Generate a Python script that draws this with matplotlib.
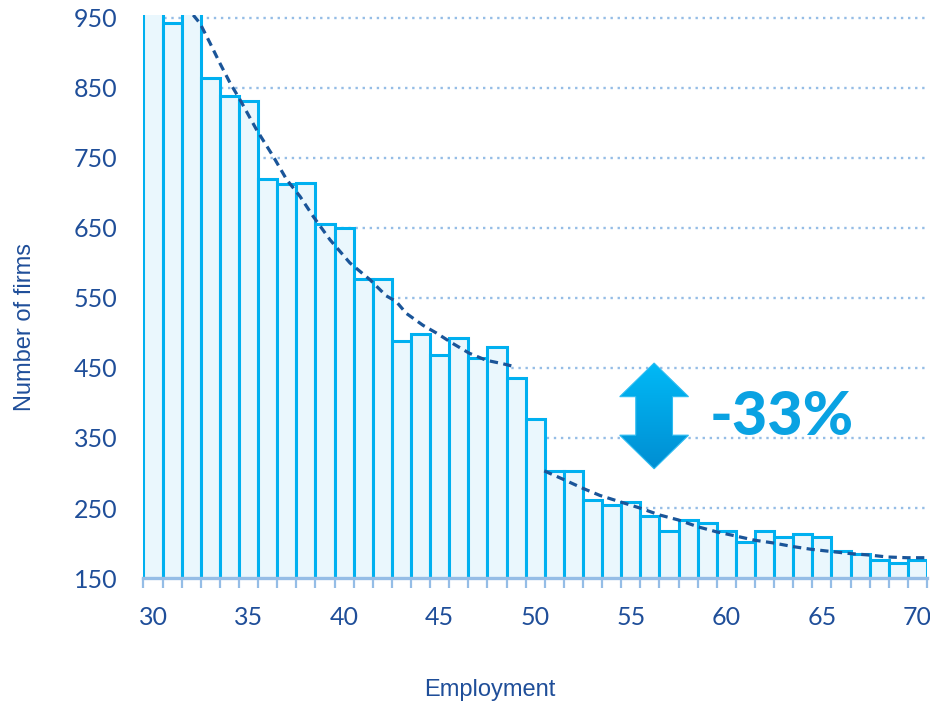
import numpy as np
import matplotlib
matplotlib.use("Agg")
import matplotlib.pyplot as plt
from matplotlib.patches import Polygon
from matplotlib.colors import LinearSegmentedColormap

# ---- data ----
employment = list(range(30, 71))
firms = [1010, 943, 985, 864, 839, 831, 720, 712, 714, 655, 650, 577, 577,
         489, 498, 469, 493, 464, 480, 435, 377, 303, 303, 262, 254, 258,
         238, 217, 233, 229, 217, 201, 217, 208, 213, 209, 188, 184, 176,
         171, 176]

trend1_x = [32.1, 32.46, 32.98, 33.5, 34.03, 34.55, 35.42, 36.29, 36.99, 37.69,
            38.39, 39.26, 40.3, 41.35, 42.2, 42.72, 43.25, 44.12, 44.82, 45.68,
            46.55, 47.43, 48.3, 48.9]
trend1_y = [954, 942, 914, 885, 857, 833, 790, 752, 719, 695,
            666, 633, 600, 576, 553, 545, 528, 511, 500, 485,
            471, 461, 456, 452]

trend2_x = [50.47, 51.46, 52.5, 53.38, 54.42, 55.47, 56.51, 57.48, 58.53, 59.48,
            60.49, 61.48, 62.48, 63.46, 64.45, 65.44, 66.45, 67.41, 68.45, 69.47,
            70.42]
trend2_y = [303, 291, 278, 268, 259, 250, 240, 233, 223, 216,
            210, 204, 200, 195, 191, 188, 185, 183, 180, 179, 179]

yticks = [150, 250, 350, 450, 550, 650, 750, 850, 950]
xticks = [30, 35, 40, 45, 50, 55, 60, 65, 70]

arrow_x = 56.22
arrow_top = 457
arrow_bottom = 306
change_label = "-33%"

# ---- style ----
text_col = "#1f4e99"
edge_col = "#00b0f0"
fill_col = "#eaf7fd"
grid_col = "#95bde6"
trend_col = "#1a5599"

fig = plt.figure(figsize=(9.3, 7.05), dpi=100)
ax = fig.add_axes([0.1543, 0.1801, 0.8425, 0.7986])

ax.bar(employment, firms, width=1.0, color=fill_col, edgecolor=edge_col,
       linewidth=2.2, zorder=2)

for yv in yticks[1:]:
    ax.axhline(yv, color=grid_col, linestyle=(0, (1, 2)), linewidth=1.7, zorder=0.5)

ax.plot(trend1_x, trend1_y, color=trend_col, linestyle=(0, (2.6, 1.7)), linewidth=2.3, zorder=3)
ax.plot(trend2_x, trend2_y, color=trend_col, linestyle=(0, (2.6, 1.7)), linewidth=2.3, zorder=3)

# arrow (double-headed, gradient)
hw, sw, hl = 1.8, 0.96, 48
cx = arrow_x
pts = [(cx, arrow_top), (cx + hw, arrow_top - hl), (cx + sw, arrow_top - hl),
       (cx + sw, arrow_bottom + hl), (cx + hw, arrow_bottom + hl), (cx, arrow_bottom),
       (cx - hw, arrow_bottom + hl), (cx - sw, arrow_bottom + hl),
       (cx - sw, arrow_top - hl), (cx - hw, arrow_top - hl)]
poly = Polygon(pts, closed=True, facecolor="none", edgecolor="#2cbcf2",
               linewidth=0.8, zorder=5)
ax.add_patch(poly)
cmap = LinearSegmentedColormap.from_list("arr", ["#008ed2", "#00b9f6"])
grad = np.linspace(0, 1, 256).reshape(-1, 1)
im = ax.imshow(grad, cmap=cmap, origin="lower", aspect="auto",
               extent=(cx - hw, cx + hw, arrow_bottom, arrow_top), zorder=4)
im.set_clip_path(poly)
ax.set_xlim(29.5, 70.5)
ax.set_ylim(150, 954)

ax.text(59.1, 354, change_label, fontsize=44, fontweight="black", family="Lato",
        color="#0aa2e2", ha="left", va="baseline", zorder=6)

# axes styling
for s in ["top", "right", "left"]:
    ax.spines[s].set_visible(False)
ax.spines["bottom"].set_color(grid_col)
ax.spines["bottom"].set_linewidth(2.4)
ax.spines["bottom"].set_zorder(4)

ax.set_xticks(xticks)
ax.set_xticks(np.arange(29.5, 71, 1.0), minor=True)
ax.tick_params(axis="x", which="major", length=0, pad=20, labelsize=18,
               labelcolor=text_col)
ax.tick_params(axis="x", which="minor", length=7, width=1.6, color=grid_col,
               direction="out")
ax.set_yticks(yticks)
ax.tick_params(axis="y", length=0, pad=19, labelsize=18, labelcolor=text_col)
for lab in ax.get_xticklabels() + ax.get_yticklabels():
    lab.set_family("Lato")

fig.text(490 / 930, 1 - 690 / 705, "Employment", fontsize=17, color=text_col,
         family="Liberation Sans", ha="center", va="center")
fig.text(25 / 930, 1 - 327 / 705, "Number of firms", fontsize=17, color=text_col,
         family="Liberation Sans", ha="center", va="center", rotation=90)

fig.savefig("out.png", dpi=100)
